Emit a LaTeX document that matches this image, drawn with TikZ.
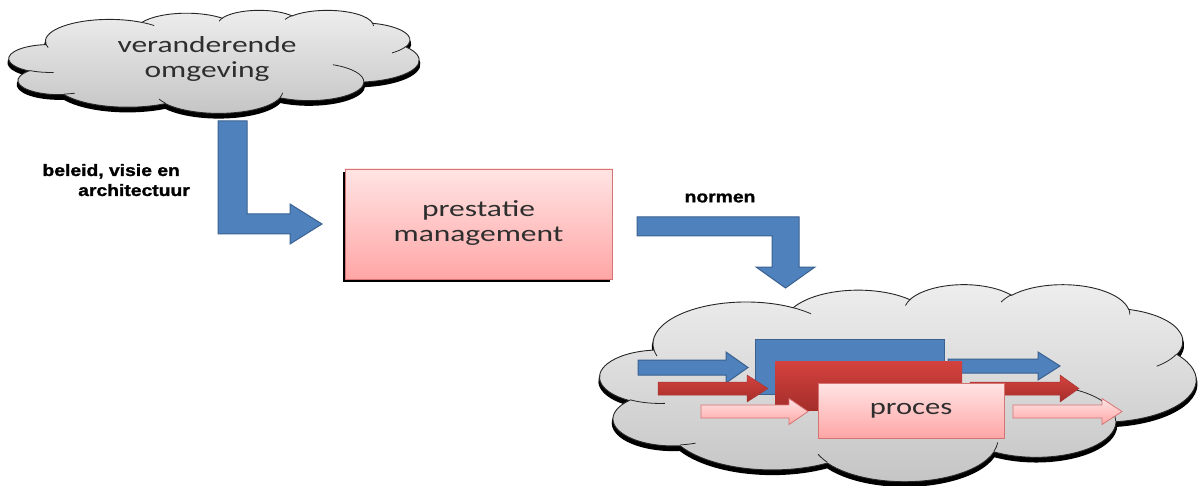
\documentclass[tikz,border=0pt]{standalone}
\usepackage{fontspec}
\setmainfont{Carlito}
\newfontfamily\labelfont[BoldFeatures={FakeBold=1.2}]{Liberation Sans}

\definecolor{cloudtop}{HTML}{EEEEEE}
\definecolor{cloudbot}{HTML}{C4C4C4}
\definecolor{cloudline}{HTML}{262626}
\definecolor{offblue}{HTML}{4F81BD}
\definecolor{offblueline}{HTML}{3A6190}
\definecolor{pinktop}{HTML}{FFE4E4}
\definecolor{pinkbot}{HTML}{FFA6A6}
\definecolor{pinkline}{HTML}{D67474}
\definecolor{redtop}{HTML}{D4423E}
\definecolor{redbot}{HTML}{A52E2A}
\definecolor{redline}{HTML}{A83532}
\definecolor{txt}{HTML}{2E2E2E}

% arc with OOXML-style (polar) start angle and sweep, radii wR, hR
\newcommand\carc[4]{arc[start angle={atan2(#1*sin(#3),#2*cos(#3))},
  delta angle={mod(atan2(#1*sin(#3+#4),#2*cos(#3+#4))-atan2(#1*sin(#3),#2*cos(#3))+720,360)},
  x radius=#1pt, y radius=#2pt]}

% cloud outline in a 43.2 x 43.2 box
\newcommand\cloudoutline{(3.9,14.37)
  \carc{6.753}{9.19}{-190.487}{123.781}
  \carc{5.333}{7.267}{-144.102}{89.945}
  \carc{4.365}{5.945}{-145.808}{99.723}
  \carc{4.857}{6.595}{-130.986}{117.242}
  \carc{5.333}{7.273}{-78.709}{109.027}
  \carc{6.775}{9.22}{-46.267}{130.269}
  \carc{5.785}{7.867}{0.625}{114.033}
  \carc{6.752}{9.215}{22.452}{115.173}
  \carc{7.72}{10.543}{66.243}{75.711}
  \carc{4.36}{5.918}{-274.942}{146.736}
  \carc{4.345}{5.945}{-246.829}{152.519} -- cycle}

% creases inside the cloud
\newcommand\cloudcreases{
  (4.693,26.177) \carc{4.345}{5.945}{86.742}{26.430}
  (6.928,34.899) \carc{4.360}{5.918}{73.610}{11.447}
  (16.478,39.090) \carc{6.752}{9.215}{137.624}{14.081}
  (28.827,34.751) \carc{6.752}{9.215}{6.453}{15.998}
  (34.129,22.954) \carc{5.785}{7.867}{-70.292}{70.917}
  (41.798,15.354) \carc{5.333}{7.273}{30.318}{27.752}
  (38.324,5.426) \carc{4.857}{6.595}{-13.744}{14.859}
  (29.078,3.952) \carc{4.857}{6.595}{-149.181}{18.195}
  (22.141,4.720) \carc{4.365}{5.945}{-163.494}{17.686}
  (14.000,5.192) \carc{6.753}{9.190}{-66.707}{12.319}
  (4.127,15.789) \carc{6.753}{9.190}{157.654}{11.858}}

% cloud with shadow: left, top, width, height
\newcommand\puffcloud[4]{%
  \begin{scope}[shift={(#1,#2+4)}, xscale=#3/43.2, yscale=#4/43.2]
    \path[cloudshadow] \cloudoutline;
  \end{scope}
  \begin{scope}[shift={(#1,#2)}, xscale=#3/43.2, yscale=#4/43.2]
    \path[cloudfill] \cloudoutline;
    \path[cloudcrease] \cloudcreases;
  \end{scope}}

% block arrow pointing right: start, head base, tip, centre y, shaft half, head half
\newcommand\rarrow[7]{%
  \path[#1] (#2,{#5-#6}) -- (#3,{#5-#6}) -- (#3,{#5-#7}) -- (#4,#5)
    -- (#3,{#5+#7}) -- (#3,{#5+#6}) -- (#2,{#5+#6}) -- cycle;}

\begin{document}
\begin{tikzpicture}[x=1pt, y=1pt, yscale=-1,
  cloudfill/.style={top color=cloudtop, bottom color=cloudbot, draw=cloudline, line width=0.9pt},
  cloudshadow/.style={fill=black, draw=black, line width=2.4pt},
  cloudcrease/.style={draw=cloudline, line width=0.8pt},
  bluearrow/.style={fill=offblue, draw=offblueline, line width=1pt, line join=miter},
  redarrow/.style={top color=redtop, bottom color=redbot, draw=redline, line width=0.5pt},
  pinkarrow/.style={top color=pinktop, bottom color=pinkbot, draw=pinkline, line width=0.8pt},
  bodytext/.style={inner sep=0pt, text=txt, font=\fontsize{23}{25}\selectfont},
  boldlabel/.style={inner sep=0pt, text=black, font=\labelfont\bfseries\fontsize{16.5}{20}\selectfont},
  pbox/.style={rectangle, top color=pinktop, bottom color=pinkbot, draw=pinkline, line width=0.9pt, inner sep=0pt},
  bluebox/.style={rectangle, fill=offblue, draw=offblueline, line width=1pt, inner sep=0pt},
  redbox/.style={rectangle, top color=redtop, bottom color=redbot, inner sep=0pt},
]
\useasboundingbox (0,0) rectangle (1198,486);
\fill[white] (0,0) rectangle (1198,486);

% changing environment
\puffcloud{9}{10}{410}{103}
\node[bodytext] (env) at (207,60)
  {\scalebox{1.37}[1]{\begin{tabular}{@{}c@{}}veranderende\\omgeving\end{tabular}}};

% policy arrow
\path[bluearrow] (218,121) -- (247,121) -- (247,214) -- (290,214) -- (290,204)
  -- (322,224) -- (290,244) -- (290,234) -- (218,234) -- cycle;
\node[boldlabel, anchor=east] (policy) at (190,182)
  {\scalebox{1.17}[1]{\begin{tabular}{@{}r@{}}beleid, visie en\hspace*{8.5pt}\\architectuur\end{tabular}}};

% performance management
\fill[black] (343,172) rectangle (610,282);
\node[pbox, minimum width=267pt, minimum height=110pt] (prest) at (478.5,224)
  {\fontsize{23}{25}\selectfont\color{txt}\scalebox{1.37}[1]{\begin{tabular}{@{}c@{}}prestatie\\management\end{tabular}}};

% norms arrow
\path[bluearrow] (637,217) -- (799,217) -- (799,267) -- (815,267) -- (785.5,288)
  -- (756,267) -- (772,267) -- (772,236) -- (637,236) -- cycle;
\node[boldlabel] (normen) at (720,198) {\scalebox{1.17}[1]{normen}};

% process cloud
\puffcloud{600}{284}{596}{197}
\rarrow{bluearrow}{638}{726}{748}{367.5}{7.5}{15.5}
\rarrow{bluearrow}{948}{1038}{1060}{366}{7}{14}
\node[bluebox, minimum width=189pt, minimum height=55pt] (blueblock) at (849.5,366.5) {};
\rarrow{redarrow}{658}{747}{768}{388.5}{6.5}{13.5}
\rarrow{redarrow}{970}{1060}{1079}{388.5}{6.5}{13.5}
\node[redbox, minimum width=187pt, minimum height=49pt] (redblock) at (868.5,385.5) {};
\rarrow{pinkarrow}{701}{789}{808}{411.5}{6.5}{13}
\rarrow{pinkarrow}{1013}{1102}{1122}{411.5}{6.5}{13}
\node[pbox, minimum width=186pt, minimum height=55pt] (proces) at (911,410.5)
  {\fontsize{23}{25}\selectfont\color{txt}\scalebox{1.33}[1]{proces}};
\end{tikzpicture}
\end{document}
